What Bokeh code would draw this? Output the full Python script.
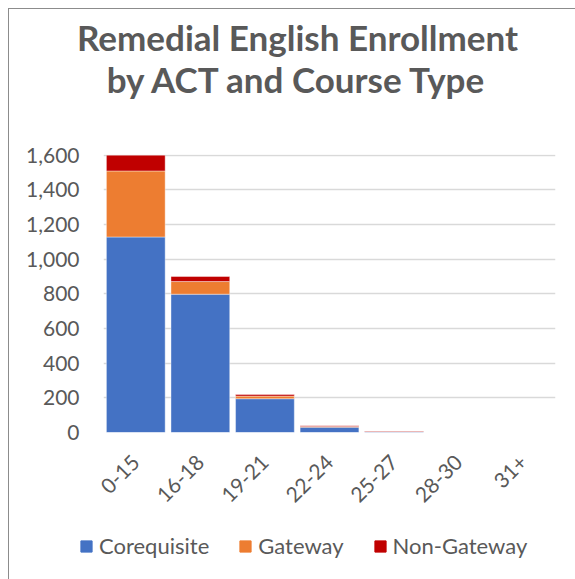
from bokeh.plotting import figure
from bokeh.models import (ColumnDataSource, FactorRange, Range1d, NumeralTickFormatter, Label,
                          SingleIntervalTicker, Plot)
from bokeh.layouts import column
from bokeh.embed import file_html
from bokeh.resources import INLINE
import numpy as np
import math

categories = ["0-15", "16-18", "19-21", "22-24", "25-27", "28-30", "31+"]
corequisite = [1128, 798, 195, 31, 4, 0, 0]
gateway = [381, 73, 15, 4, 2, 0, 0]
non_gateway = [91, 29, 9, 4, 3, 0, 0]
series = ["Corequisite", "Gateway", "Non-Gateway"]
colors = ["#4472C4", "#ED7D31", "#C00000"]
title_lines = ["Remedial English Enrollment", "by ACT and Course Type"]

source = ColumnDataSource(dict(cat=categories, Corequisite=corequisite,
                               Gateway=gateway, **{"Non-Gateway": non_gateway}))

FONT = "Lato"
GRAY = "#595959"
W = 566
LEFT = 94
HAS_FA = "frame_align" in Plot.properties()
XOFF = 0 if HAS_FA else LEFT


def blank(height):
    f = figure(width=W, height=height, x_range=Range1d(0, 1), y_range=Range1d(0, 1),
               output_backend="svg", toolbar_location=None,
               x_axis_location=None, y_axis_location=None,
               min_border=0, min_border_left=0, min_border_right=0,
               min_border_top=0, min_border_bottom=0)
    if HAS_FA:
        f.frame_align = False
    f.xgrid.grid_line_color = None
    f.ygrid.grid_line_color = None
    f.outline_line_color = None
    return f


# ---- title ----
pt = blank(134)
for i, t in enumerate(title_lines):
    pt.add_layout(Label(x=288 - XOFF, y=107 - 42 * i, x_units="screen", y_units="screen", text=t,
                        text_align="center", text_baseline="alphabetic",
                        text_font=FONT, text_font_style="bold",
                        text_font_size="35px", text_color=GRAY))

# ---- chart ----
p = figure(width=W, height=374, x_range=FactorRange(*categories, range_padding=0),
           y_range=Range1d(0, 1604), output_backend="svg", toolbar_location=None,
           min_border_left=LEFT, min_border_right=20, min_border_top=11, min_border_bottom=85)
p.outline_line_color = None

p.vbar_stack(series, x="cat", width=0.91, color=colors, source=source,
             line_color="white", line_alpha=0.4, line_width=1)

p.yaxis.ticker = SingleIntervalTicker(interval=200)
p.yaxis.formatter = NumeralTickFormatter(format="0,0")
for ax in (p.xaxis[0], p.yaxis[0]):
    ax.axis_line_color = None
    ax.major_tick_line_color = None
    ax.minor_tick_line_color = None
    ax.major_label_text_color = GRAY
    ax.major_label_text_font = FONT
p.yaxis.major_label_text_font_size = "21px"
p.yaxis.major_label_standoff = 18
p.xaxis.major_label_text_font_size = "21px"
p.xaxis.major_label_orientation = math.pi / 4
p.xaxis.major_label_standoff = 20

p.xgrid.grid_line_color = None
p.ygrid.grid_line_color = "#d9d9d9"
p.ygrid.grid_line_width = 1.5

# ---- legend ----
pl = blank(62)
for name, c in zip(series, colors):
    pl.vbar(x=np.array([np.nan]), top=np.array([np.nan]), width=0.1, color=c, legend_label=name)
lg = pl.legend[0]
lg.orientation = "horizontal"
lg.location = (70 - XOFF, 20)
lg.border_line_color = None
lg.background_fill_alpha = 0
lg.padding = 0
lg.margin = 0
lg.spacing = 29
lg.glyph_width = 14
lg.glyph_height = 14
lg.label_standoff = 6
lg.label_text_font = FONT
lg.label_text_font_size = "22px"
lg.label_text_color = GRAY
lg.label_height = 24

layout = column(pt, p, pl, spacing=0)
layout.styles = {"margin-left": "8px", "margin-top": "8px",
                 "border-left": "1px solid #8c8c8c", "border-top": "1px solid #8c8c8c",
                 "background-color": "white"}

open("out.html", "w").write(file_html(layout, INLINE))
